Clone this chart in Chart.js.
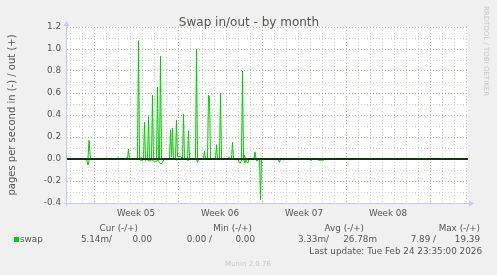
<!DOCTYPE html>
<html>
<head>
<meta charset="utf-8">
<script src="https://cdn.jsdelivr.net/npm/chart.js@4.4.1/dist/chart.umd.min.js"></script>
<style>
  html, body { margin: 0; padding: 0; background: #f0f0f0; }
  #wrap { position: relative; width: 497px; height: 275px; }
</style>
</head>
<body>
<div id="wrap"><canvas id="swapChart" width="497" height="275"></canvas></div>
<script>
// hours since Mon Jan 26 00:00 (week 05 start)
const outHours = [-54, -12, -10, -7, 24, 26, 28, 46, 48, 50, 63, 65, 67, 69, 71, 87, 89, 91, 93, 96, 99, 101, 103,
  107, 109, 111, 115, 117, 119, 125, 127, 129, 131, 133, 135, 151, 153, 155, 157, 159, 163, 165, 167, 170, 174,
  177, 179, 181, 187, 189, 191, 203, 205, 207, 219, 221, 223, 227, 229, 231, 233, 243, 245, 247, 251, 253, 255,
  268, 270, 272, 275, 277, 279, 295, 297, 299, 301, 303, 320, 322, 324, 372, 374, 376, 740, 742, 744, 748];
const outValues = [0, 0, 0.17, 0, 0, 0.01, 0, 0, 0.012, 0, 0, 0.012, 0, 0.09, 0, 0, 1.075, 0, 0.01, 0.01, 0, 0.336, 0,
  0, 0.385, 0, 0, 0.58, 0, 0, 0.655, 0, 0, 0.936, 0, 0, 0.264, 0.02, 0.28, 0, 0, 0.355, 0.02, 0.02, 0.02,
  0, 0.41, 0, 0, 0.255, 0, 0, 1.0, 0, 0, 0.07, 0, 0, 0.58, 0.56, 0, 0, 0.13, 0, 0, 0.6, 0,
  0, 0.015, 0, 0, 0.15, 0, 0, 0.8, 0, 0.035, 0, 0, 0.065, 0, 0, 0.006, 0, 0, 0.005, 0, 0];

const inHours = [-54, -15, -12, -9, 90, 92, 98, 100, 102, 106, 112, 116, 119, 124, 128, 131, 134, 137, 140, 142,
  162, 164, 168, 184, 186, 190, 192, 205, 207, 209, 232, 234, 236, 254, 256, 258, 271, 273, 275, 280, 282, 284,
  288, 290, 292, 294, 296, 299, 302, 304, 306, 308, 310, 316, 318, 320, 324, 326, 328, 331, 333, 335, 338, 340,
  348, 350, 368, 371, 373, 378, 380, 382, 388, 390, 392, 410, 412, 414, 432, 434, 436, 446, 448, 460, 462,
  510, 512, 514, 664, 666, 668, 748];
const inValues = [0, 0, -0.055, 0, 0, -0.01, -0.01, 0, -0.01, -0.005, -0.02, -0.005, -0.02, -0.02, -0.01, -0.03, -0.045, -0.03, -0.005, 0,
  0, -0.01, -0.005, 0, -0.01, -0.01, 0, 0, -0.03, 0, 0, -0.008, 0, 0, -0.01, 0, 0, -0.01, 0, 0, -0.01, 0,
  0, -0.03, -0.04, -0.02, 0, 0, -0.035, -0.01, -0.03, -0.035, 0, 0, -0.01, 0, 0, -0.02, 0, 0, -0.37, 0, 0, -0.005,
  -0.005, 0, 0, -0.03, 0, 0, -0.01, 0, 0, -0.01, 0, 0, -0.006, 0, 0, -0.015, 0, 0, -0.01, -0.01, 0,
  0, -0.01, 0, 0, -0.01, 0, 0];

const weekLabels = ["Week 05", "Week 06", "Week 07", "Week 08"];
const weekCenters = [84, 252, 420, 588];
const dayLines = [];
for (let h = -48; h <= 744; h += 24) dayLines.push(h);
const yLines = [-0.4, -0.3, -0.2, -0.1, 0, 0.1, 0.2, 0.3, 0.4, 0.5, 0.6, 0.7, 0.8, 0.9, 1.0, 1.1, 1.2];

const legendHead = [["Cur (-/+)", 138], ["Min (-/+)", 252], ["Avg (-/+)", 364], ["Max (-/+)", 480]];
const legendVals = [["5.14m/", 112], ["0.00", 152], ["0.00 /", 212], ["0.00", 255],
  ["3.33m/", 329], ["26.78m", 377], ["7.89 /", 436], ["19.39", 480]];

const FONT = "DejaVu Sans";
const TEXT = "#555";
const GREEN = "#00cc00";
const MAJOR = "#e8a4a4";
const MINOR = "#d2d2d2";
const AXIS = "#c8c8f4";

const toPts = (xs, ys) => xs.map((x, i) => ({ x: x, y: ys[i] }));

const munin = {
  id: "munin",
  beforeDraw(chart) {
    const { ctx, chartArea: a } = chart;
    ctx.save();
    ctx.fillStyle = "#fff";
    ctx.fillRect(a.left, a.top, a.right - a.left, a.bottom - a.top);
    ctx.restore();
  },
  afterDatasetsDraw(chart) {
    const { ctx, chartArea: a, scales } = chart;
    const y0 = scales.y.getPixelForValue(0);
    ctx.save();
    // zero line on top of the data, like munin
    ctx.strokeStyle = "#000";
    ctx.lineWidth = 1.5;
    ctx.beginPath();
    ctx.moveTo(a.left, y0);
    ctx.lineTo(a.right, y0);
    ctx.stroke();
    // axes with arrows
    ctx.lineWidth = 1;
    ctx.strokeStyle = AXIS;
    ctx.fillStyle = AXIS;
    ctx.beginPath();
    ctx.moveTo(a.left - 0.5, a.bottom + 3);
    ctx.lineTo(a.left - 0.5, a.top - 2);
    ctx.moveTo(a.left - 3, a.bottom + 0.5);
    ctx.lineTo(a.right + 2, a.bottom + 0.5);
    ctx.stroke();
    ctx.beginPath();
    ctx.moveTo(a.left - 3.5, a.top - 1);
    ctx.lineTo(a.left + 2.5, a.top - 1);
    ctx.lineTo(a.left - 0.5, a.top - 6);
    ctx.closePath();
    ctx.fill();
    ctx.beginPath();
    ctx.moveTo(a.right + 1, a.bottom - 2.5);
    ctx.lineTo(a.right + 1, a.bottom + 3.5);
    ctx.lineTo(a.right + 6, a.bottom + 0.5);
    ctx.closePath();
    ctx.fill();
    ctx.restore();
  },
  afterDraw(chart) {
    const ctx = chart.ctx;
    ctx.save();
    ctx.fillStyle = TEXT;
    ctx.textBaseline = "alphabetic";
    ctx.font = "12px '" + FONT + "'";
    ctx.textAlign = "center";
    ctx.fillText("Swap in/out - by month", 249, 26);

    ctx.font = "8.8px '" + FONT + "'";
    ctx.textAlign = "right";
    legendHead.forEach(([t, x]) => ctx.fillText(t, x, 230.5));
    legendVals.forEach(([t, x]) => ctx.fillText(t, x, 242));
    ctx.fillText("Last update: Tue Feb 24 23:35:00 2026", 482, 254);
    ctx.textAlign = "left";
    ctx.fillText("swap", 20, 242);
    ctx.fillStyle = GREEN;
    ctx.fillRect(14, 237, 5, 5);

    ctx.fillStyle = "#c8c8c8";
    ctx.font = "7px '" + FONT + "'";
    ctx.textAlign = "center";
    ctx.fillText("Munin 2.0.76", 248, 265.5);
    ctx.translate(484, 51);
    ctx.rotate(Math.PI / 2);
    ctx.fillText("RRDTOOL / TOBI OETIKER", 0, 0);
    ctx.restore();
  }
};

new Chart(document.getElementById("swapChart"), {
  type: "line",
  data: {
    datasets: [
      { label: "swap in", data: toPts(inHours, inValues), borderColor: GREEN, borderWidth: 1, pointRadius: 0, tension: 0, fill: false },
      { label: "swap out", data: toPts(outHours, outValues), borderColor: GREEN, borderWidth: 1, pointRadius: 0, tension: 0, fill: false }
    ]
  },
  options: {
    responsive: false,
    animation: false,
    events: [],
    layout: { padding: { left: 0, right: 29, top: 27, bottom: 52 } },
    plugins: { legend: { display: false }, tooltip: { enabled: false } },
    scales: {
      x: {
        type: "linear",
        min: -54,
        max: 748,
        afterBuildTicks: (s) => {
          s.ticks = dayLines.concat(weekCenters).map((v) => ({ value: v }));
        },
        afterFit: (s) => { s.height = 20; },
        grid: {
          drawTicks: false,
          color: (c) => {
            const v = c.tick.value;
            if (weekCenters.includes(v)) return "rgba(0,0,0,0)";
            return v % 168 === 0 ? MAJOR : MINOR;
          }
        },
        border: { display: false, dash: [1, 2] },
        ticks: {
          autoSkip: false,
          maxRotation: 0,
          padding: 5,
          color: TEXT,
          font: { family: FONT, size: 8.8 },
          callback: (v) => {
            const i = weekCenters.indexOf(v);
            return i >= 0 ? weekLabels[i] : "";
          }
        }
      },
      y: {
        type: "linear",
        min: -0.4,
        max: 1.2,
        afterBuildTicks: (s) => {
          s.ticks = yLines.map((v) => ({ value: v }));
        },
        afterFit: (s) => { s.width = 67; },
        grid: {
          drawTicks: false,
          color: (c) => (Math.round(c.tick.value * 10) % 2 === 0 ? MAJOR : MINOR)
        },
        border: { display: false, dash: [1, 2] },
        title: {
          display: true,
          text: "pages per second in (-) / out (+)",
          color: TEXT,
          font: { family: FONT, size: 10 },
          padding: { top: 6, bottom: 0 }
        },
        ticks: {
          autoSkip: false,
          padding: 6,
          color: TEXT,
          font: { family: FONT, size: 8.8 },
          callback: (v) => {
            const n = Math.round(v * 10);
            return n % 2 === 0 ? (n / 10).toFixed(1) : "";
          }
        }
      }
    }
  },
  plugins: [munin]
});
</script>
</body>
</html>
